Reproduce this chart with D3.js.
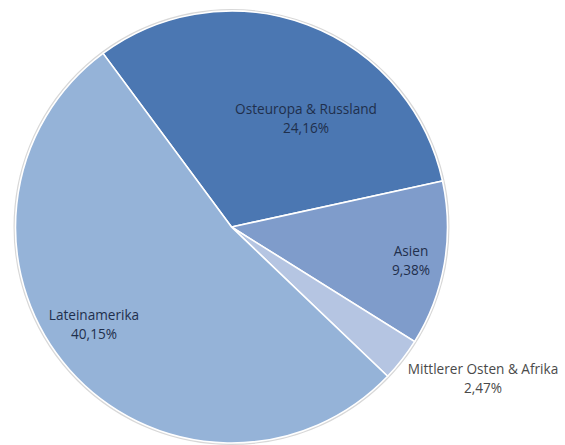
<!DOCTYPE html>
<html>
<head>
<meta charset="utf-8">
<script src="https://cdn.jsdelivr.net/npm/d3@7"></script>
<style>
  body { margin: 0; background: #fff; }
  svg { display: block; }
  text { font-family: "Open Sans", "DejaVu Sans", sans-serif; }
</style>
</head>
<body>
<script>
/*** DONNEES ***/
let regions = ["Osteuropa & Russland", "Asien", "Mittlerer Osten & Afrika", "Lateinamerika"];
let anteile = [24.16, 9.38, 2.47, 40.15];
let farben = ["#4b77b2", "#7f9ccb", "#b5c5e2", "#95b3d8"];

/*** GRAPH ***/
let width = 565,
  height = 445,
  cx = 231.5,
  cy = 227,
  radius = 216;

let svg = d3.select("body").append("svg")
  .attr("width", width)
  .attr("height", height);

let g = svg.append("g")
  .attr("transform", "translate(" + cx + "," + cy + ")");

/* le premier secteur commence en haut a gauche */
let start = -36.5 * Math.PI / 180;
let pie = d3.pie()
  .sort(null)
  .startAngle(start)
  .endAngle(start + 2 * Math.PI)
  .value((d, i) => anteile[i]);

let arc = d3.arc().innerRadius(0).outerRadius(radius);

let data = pie(regions);

/* ombre legere autour du disque */
g.append("circle")
  .attr("r", radius + 1)
  .style("fill", "none")
  .style("stroke", "#d8d8d8")
  .style("stroke-width", 2);

g.selectAll(".slice")
  .data(data)
  .enter().append("path")
  .attr("class", "slice")
  .attr("d", arc)
  .style("fill", (d, i) => farben[i])
  .style("stroke", "#fff")
  .style("stroke-width", 1.6);

/* etiquettes : position absolue */
let labelPos = [
  { x: 306, y: 114, color: "#1f2f4c" },
  { x: 411, y: 256, color: "#1f2f4c" },
  { x: 483, y: 374, color: "#4a4a4a" },
  { x: 94, y: 320, color: "#1f2f4c" }
];

let fmt = (v) => v.toFixed(2).replace(".", ",") + "%";

let labels = svg.selectAll(".label")
  .data(regions)
  .enter().append("text")
  .attr("class", "label")
  .attr("text-anchor", "middle")
  .style("font-size", "13.6px")
  .style("fill", (d, i) => labelPos[i].color);

labels.append("tspan")
  .attr("x", (d, i) => labelPos[i].x)
  .attr("y", (d, i) => labelPos[i].y)
  .text((d) => d);

labels.append("tspan")
  .attr("x", (d, i) => labelPos[i].x)
  .attr("y", (d, i) => labelPos[i].y + 19)
  .text((d, i) => fmt(anteile[i]));
</script>
</body>
</html>
